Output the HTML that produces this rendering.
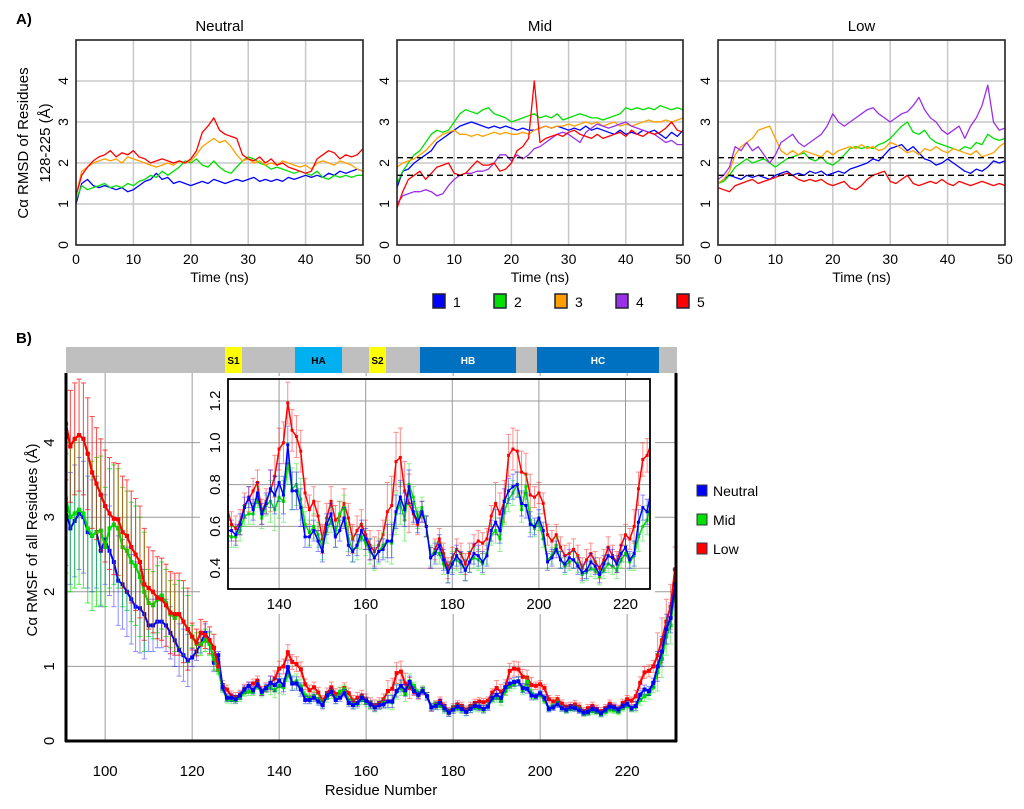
<!DOCTYPE html>
<html><head><meta charset="utf-8"><style>
body{margin:0;background:#fff;}
svg{display:block;font-family:"Liberation Sans",sans-serif;}
</style></head><body>
<svg id="fig" width="1024" height="809" viewBox="0 0 1024 809">
<g id="A"></g>
<g id="B"></g>
</svg>
<script>
// ---------- Panel A data (t = 0..50 ns, 1 ns steps) ----------
const timeNs = [0,1,2,3,4,5,6,7,8,9,10,11,12,13,14,15,16,17,18,19,20,21,22,23,24,25,26,27,28,29,30,31,32,33,34,35,36,37,38,39,40,41,42,43,44,45,46,47,48,49,50];
const neutral1 = [1.0,1.5,1.6,1.45,1.4,1.45,1.4,1.35,1.4,1.3,1.35,1.45,1.55,1.6,1.75,1.6,1.65,1.5,1.55,1.5,1.45,1.5,1.55,1.5,1.6,1.55,1.5,1.55,1.6,1.55,1.6,1.65,1.55,1.6,1.55,1.6,1.55,1.65,1.6,1.65,1.7,1.65,1.7,1.65,1.75,1.7,1.8,1.75,1.8,1.85,1.8];
const neutral2 = [1.1,1.45,1.35,1.4,1.45,1.5,1.4,1.45,1.4,1.5,1.45,1.55,1.6,1.7,1.65,1.8,1.7,1.8,1.9,2.05,2.0,2.1,1.95,1.9,2.05,1.9,1.8,1.75,1.9,2.05,2.15,2.1,2.0,1.95,1.85,1.9,1.85,1.8,1.75,1.8,1.75,1.7,1.8,1.65,1.6,1.7,1.65,1.7,1.65,1.7,1.7];
const neutral3 = [1.2,1.8,1.9,2.0,2.05,2.1,2.05,2.1,2.0,2.15,2.1,2.05,2.0,1.95,1.9,1.95,2.0,1.95,2.05,2.0,2.05,2.2,2.4,2.5,2.6,2.5,2.55,2.4,2.2,2.05,2.1,2.0,2.05,1.95,2.0,1.95,2.05,2.0,1.95,1.9,1.95,1.85,2.0,2.05,2.0,1.95,2.05,2.0,1.95,1.85,1.8];
const neutral5 = [1.2,1.7,1.9,2.05,2.15,2.2,2.3,2.15,2.25,2.2,2.3,2.15,2.1,2.0,2.05,2.1,2.05,2.0,2.05,2.0,2.1,2.3,2.75,2.9,3.1,2.8,2.7,2.65,2.6,2.2,2.1,2.05,2.15,2.0,2.1,1.95,2.0,1.9,1.85,1.8,1.75,1.8,2.1,2.2,2.3,2.25,2.1,2.2,2.15,2.2,2.35];
const mid1 = [1.4,1.8,1.85,2.0,2.1,2.2,2.3,2.5,2.6,2.7,2.8,2.9,2.95,3.0,2.95,2.9,2.85,2.9,2.85,2.9,2.85,2.8,2.85,2.8,2.8,2.85,2.9,2.85,2.9,2.85,2.8,2.85,2.8,2.9,2.8,2.85,2.8,2.75,2.7,2.8,2.7,2.75,2.7,2.8,2.75,2.8,2.7,2.6,2.75,2.65,2.8];
const mid2 = [1.5,1.8,2.0,2.2,2.3,2.5,2.7,2.8,2.75,2.8,3.0,3.2,3.3,3.25,3.2,3.3,3.35,3.2,3.15,3.1,3.0,3.05,3.1,3.15,3.2,3.1,3.15,3.1,3.2,3.05,3.1,3.15,3.2,3.15,3.1,3.1,3.05,3.1,3.15,3.2,3.35,3.3,3.35,3.3,3.35,3.3,3.4,3.35,3.3,3.35,3.3];
const mid3 = [1.9,2.0,2.05,2.1,2.2,2.3,2.45,2.6,2.7,2.75,2.8,2.7,2.7,2.65,2.7,2.65,2.7,2.75,2.7,2.75,2.7,2.7,2.75,2.7,2.8,2.85,2.9,2.85,2.9,2.9,2.95,2.9,2.95,3.0,2.95,3.0,2.9,2.95,3.0,2.9,2.95,2.9,2.95,3.0,3.05,3.0,3.0,3.05,3.0,3.05,3.1];
const mid4 = [1.0,1.2,1.25,1.3,1.3,1.35,1.3,1.2,1.25,1.45,1.6,1.7,1.75,1.75,1.8,1.8,1.85,2.0,2.2,2.2,2.05,2.2,2.1,2.2,2.35,2.4,2.5,2.6,2.7,2.75,2.7,2.6,2.5,2.75,2.85,2.95,2.9,2.85,2.9,2.95,3.0,2.9,2.85,2.8,2.75,2.7,2.6,2.5,2.55,2.45,2.45];
const mid5 = [0.9,1.3,1.6,1.7,1.8,1.6,1.75,1.9,1.95,2.0,1.75,1.7,1.75,1.9,2.05,1.95,1.95,2.0,1.8,1.85,2.0,2.3,2.4,2.6,4.0,2.5,2.6,2.65,2.7,2.65,2.75,2.8,2.7,2.65,2.6,2.7,2.6,2.65,2.7,2.75,2.65,2.8,2.7,2.65,2.75,2.7,2.75,2.85,3.0,2.8,2.75];
const low1 = [1.5,1.6,1.7,1.65,1.6,1.7,1.65,1.7,1.65,1.6,1.7,1.75,1.8,1.7,1.75,1.7,1.8,1.75,1.8,1.7,1.75,1.8,1.75,1.85,1.9,1.95,2.0,2.1,2.05,2.2,2.35,2.4,2.45,2.3,2.4,2.25,2.1,2.05,1.95,2.0,2.1,2.0,1.9,1.8,1.75,1.85,1.8,1.9,2.05,2.0,2.05];
const low2 = [1.5,1.55,1.7,1.9,2.0,2.1,2.0,2.05,2.1,2.0,1.9,2.0,2.1,2.15,2.2,2.25,2.1,2.05,2.15,2.0,1.95,2.05,2.2,2.35,2.4,2.35,2.4,2.35,2.45,2.5,2.6,2.75,2.9,3.0,2.75,2.7,2.8,2.6,2.5,2.45,2.4,2.35,2.3,2.4,2.35,2.5,2.45,2.7,2.6,2.55,2.6];
const low3 = [1.5,1.6,1.8,2.2,2.4,2.5,2.6,2.8,2.85,2.9,2.6,2.3,2.2,2.3,2.2,2.3,2.25,2.2,2.15,2.3,2.2,2.3,2.35,2.4,2.35,2.45,2.35,2.4,2.3,2.35,2.5,2.45,2.35,2.25,2.3,2.2,2.35,2.3,2.4,2.3,2.25,2.35,2.3,2.25,2.2,2.3,2.15,2.2,2.25,2.4,2.5];
const low4 = [1.6,1.7,1.9,2.4,2.3,2.5,2.3,2.4,2.2,2.0,2.2,2.5,2.6,2.7,2.5,2.4,2.5,2.6,2.7,2.9,3.2,3.0,2.9,3.0,3.1,3.2,3.3,3.35,3.2,3.1,3.0,3.1,3.2,3.25,3.4,3.6,3.3,3.1,3.0,2.8,2.7,2.8,2.9,2.6,2.9,3.1,3.4,3.9,3.0,2.8,2.85];
const low5 = [1.4,1.35,1.3,1.45,1.5,1.55,1.6,1.5,1.55,1.6,1.65,1.7,1.75,1.7,1.6,1.55,1.6,1.55,1.6,1.5,1.45,1.5,1.55,1.4,1.35,1.45,1.6,1.7,1.75,1.8,1.55,1.5,1.6,1.7,1.5,1.45,1.5,1.55,1.5,1.6,1.5,1.45,1.55,1.5,1.45,1.5,1.55,1.5,1.45,1.5,1.45];
const dashedRefs = [2.13, 1.7];
const timeTicks = [0,10,20,30,40,50];
const rmsdTicks = [0,1,2,3,4];
const runLabels = ["1","2","3","4","5"];

// ---------- Panel B data (residues 91..231) ----------
const residueStart = 91;
const rmsfNeutral = [3.1,2.85,2.95,3.05,3.0,2.8,2.75,2.8,2.55,2.7,2.55,2.4,2.15,2.1,2.0,1.9,1.8,1.78,1.7,1.55,1.55,1.6,1.6,1.55,1.45,1.35,1.22,1.15,1.08,1.12,1.2,1.3,1.45,1.35,1.05,1.15,0.72,
0.58,0.58,0.56,0.61,0.69,0.74,0.68,0.76,0.66,0.71,0.78,0.75,0.81,0.75,0.99,0.77,0.77,0.69,0.55,0.55,0.58,0.53,0.48,0.61,0.66,0.55,0.58,0.64,0.51,0.48,0.51,0.58,0.54,0.49,0.45,0.48,0.49,0.53,0.53,0.67,0.74,0.68,0.79,0.67,0.62,0.67,0.60,0.45,0.47,0.51,0.44,0.38,0.42,0.46,0.43,0.39,0.43,0.47,0.46,0.43,0.46,0.58,0.62,0.58,0.72,0.77,0.79,0.80,0.71,0.70,0.61,0.60,0.64,0.58,0.43,0.45,0.49,0.44,0.42,0.45,0.44,0.41,0.38,0.39,0.43,0.41,0.37,0.42,0.46,0.45,0.42,0.47,0.50,0.44,0.47,0.62,0.69,0.67,
0.78,1.0,1.2,1.5,1.65,2.1];
const rmsfMid = [3.25,3.0,3.05,3.1,3.05,2.85,2.75,2.8,2.82,2.6,2.85,2.9,2.85,2.6,2.55,2.4,2.35,2.2,2.0,1.85,1.82,1.9,1.95,1.85,1.7,1.65,1.7,1.6,1.5,1.4,1.3,1.3,1.35,1.3,1.1,0.95,0.7,
0.56,0.55,0.55,0.58,0.65,0.66,0.66,0.74,0.64,0.70,0.72,0.68,0.74,0.72,0.90,0.78,0.80,0.73,0.61,0.57,0.60,0.56,0.50,0.58,0.63,0.56,0.66,0.69,0.54,0.49,0.50,0.55,0.52,0.48,0.45,0.48,0.51,0.53,0.52,0.66,0.71,0.63,0.80,0.74,0.64,0.69,0.60,0.46,0.48,0.47,0.42,0.38,0.43,0.44,0.42,0.39,0.43,0.45,0.44,0.42,0.47,0.56,0.58,0.54,0.67,0.73,0.76,0.80,0.68,0.79,0.63,0.59,0.62,0.54,0.44,0.46,0.51,0.44,0.41,0.43,0.44,0.42,0.37,0.38,0.40,0.39,0.36,0.39,0.42,0.41,0.39,0.44,0.47,0.43,0.46,0.55,0.60,0.63,
0.72,0.92,1.1,1.4,1.55,2.05];
const rmsfLow = [4.25,3.95,4.05,4.1,4.05,3.85,3.6,3.45,3.3,3.15,3.05,2.98,2.97,2.8,2.75,2.6,2.5,2.4,2.1,2.05,2.0,1.92,1.9,1.82,1.72,1.7,1.7,1.6,1.5,1.4,1.32,1.45,1.42,1.35,1.25,1.0,0.75,
0.69,0.61,0.59,0.62,0.70,0.73,0.77,0.81,0.67,0.72,0.77,0.84,0.97,1.0,1.19,1.06,1.03,0.96,0.76,0.68,0.72,0.65,0.54,0.64,0.72,0.63,0.65,0.71,0.64,0.54,0.58,0.61,0.56,0.51,0.48,0.51,0.56,0.67,0.70,0.91,0.93,0.77,0.71,0.66,0.61,0.67,0.60,0.45,0.49,0.54,0.47,0.40,0.45,0.49,0.47,0.42,0.47,0.51,0.53,0.52,0.54,0.65,0.71,0.66,0.72,0.94,0.97,0.96,0.86,0.85,0.75,0.74,0.76,0.71,0.56,0.53,0.56,0.50,0.46,0.47,0.49,0.46,0.40,0.44,0.47,0.43,0.40,0.44,0.50,0.46,0.43,0.51,0.56,0.54,0.60,0.78,0.92,0.94,
1.0,1.15,1.35,1.6,1.8,2.3];
// error-bar half-widths, piecewise by residue segment
const errSegStart = [91,100,110,120,126,138,146,165,171,190,199,222,227];
const errNeutral = [0.75,0.6,0.35,0.12,0.05,0.09,0.05,0.08,0.05,0.06,0.04,0.06,0.2];
const errMid = [1.0,0.8,0.45,0.15,0.05,0.1,0.06,0.1,0.05,0.06,0.04,0.07,0.25];
const errLow = [0.75,0.75,0.55,0.18,0.06,0.1,0.07,0.14,0.05,0.1,0.05,0.08,0.3];
const residueTicks = [100,120,140,160,180,200,220];
const insetResTicks = [140,160,180,200,220];
const rmsfTicks = [0,1,2,3,4];
const insetTicks = [0.4,0.6,0.8,1.0,1.2];
const seriesNames = ["Neutral","Mid","Low"];
const domainNames = ["S1","HA","S2","HB","HC"];
const domainStart = [127,141,151,170,180];
const domainEnd = [131,152,155,192,208];

// ---------- helpers ----------
const NS='http://www.w3.org/2000/svg';
function mk(tag, attrs, parent){const e=document.createElementNS(NS,tag);for(const k in attrs)e.setAttribute(k,attrs[k]);parent.appendChild(e);return e;}
function txt(s, attrs, parent){const e=mk('text',attrs,parent);e.textContent=s;return e;}
const A=document.getElementById('A'), B=document.getElementById('B');
const C={1:'#0000ff',2:'#00e000',3:'#ffa000',4:'#9a30e8',5:'#ff0000'};

// ---------- Panel A ----------
let t=txt('A)',{x:16,y:24,'font-size':15,'font-weight':'bold'},A);

const panels=[
 {name:'Neutral',x0:76,x1:363,series:[[neutral1,1],[neutral2,2],[neutral3,3],[neutral5,5]],dash:false,key:'neutral'},
 {name:'Mid',x0:397,x1:683,series:[[mid1,1],[mid2,2],[mid3,3],[mid4,4],[mid5,5]],dash:true,key:'mid'},
 {name:'Low',x0:718,x1:1005,series:[[low1,1],[low2,2],[low3,3],[low4,4],[low5,5]],dash:true,key:'low'}];
const yTop=40,yBot=245;
panels.forEach(p=>{
  const g=mk('g',{},A);
  
  
  const sx=v=>p.x0+(v-0)*(p.x1-p.x0)/50;
  const sy=v=>yBot-v*41;
  timeTicks.forEach(v=>{ if(v>0&&v<50) mk('line',{x1:sx(v),x2:sx(v),y1:yTop,y2:yBot,stroke:'#c8c8c8','stroke-width':1.5},g);});
  rmsdTicks.forEach(v=>{ if(v>0) mk('line',{x1:p.x0,x2:p.x1,y1:sy(v),y2:sy(v),stroke:'#c8c8c8','stroke-width':1.5},g);});
  p.series.forEach(([arr,id])=>{
    const pl=mk('polyline',{points:arr.map((v,i)=>sx(timeNs[i]).toFixed(1)+','+sy(v).toFixed(1)).join(' '),fill:'none',stroke:C[id],'stroke-width':1.3,'stroke-linejoin':'round'},g);
    
    
  });
  if(p.dash) dashedRefs.forEach(v=>{const l=mk('line',{x1:p.x0,x2:p.x1,y1:sy(v),y2:sy(v),stroke:'#000','stroke-width':1.3,'stroke-dasharray':'6,4'},g);
    });
  mk('rect',{x:p.x0,y:yTop,width:p.x1-p.x0,height:yBot-yTop,fill:'none',stroke:'#222','stroke-width':1.6},g);
  const ti=txt(p.name,{x:(p.x0+p.x1)/2,y:31,'text-anchor':'middle','font-size':15},g);
  
  timeTicks.forEach(v=>{const e=txt(String(v),{x:sx(v),y:264,'text-anchor':'middle','font-size':14},g);
    });
  rmsdTicks.forEach(v=>{const e=txt(String(v),{x:0,y:0,'text-anchor':'middle','font-size':14,transform:`translate(${p.x0-8},${sy(v)}) rotate(-90)`},g);
    });
  const xt=txt('Time (ns)',{x:(p.x0+p.x1)/2,y:282,'text-anchor':'middle','font-size':14},g);
  
});
let yl=txt('',{'font-size':15,'text-anchor':'middle',transform:'translate(0,143) rotate(-90)'},A);

let ts1=mk('tspan',{x:0,y:28},yl);ts1.textContent='Cα RMSD of Residues';
let ts2=mk('tspan',{x:0,y:50},yl);ts2.textContent='128-225 (Å)';
// legend A
const legA=mk('g',{},A);

runLabels.forEach((lab,i)=>{
  const x=433+i*61;
  const r=mk('rect',{x:x,y:294,width:12,height:14,fill:C[i+1],stroke:'#223','stroke-width':1.5},legA);
  
  const e=txt(lab,{x:x+20,y:307,'font-size':14},legA);
  
});

// ---------- Panel B ----------
t=txt('B)',{x:16,y:343,'font-size':15,'font-weight':'bold'},B);

const bx=r=>66+(r-91)*4.35, by=v=>741-v*74.6;
function errOf(r,arr){let k=0;for(let i=0;i<errSegStart.length;i++)if(r>=errSegStart[i])k=i;return arr[k];}
// domain bar
const bar=mk('g',{},B);

mk('rect',{x:66,y:347,width:611,height:26,fill:'#bfbfbf'},bar);
const dCol=['#ffff00','#00b0f0','#ffff00','#0070c0','#0070c0'];
const dPx=[[225,242],[295,342],[369,386],[420,516],[537,659]];
domainNames.forEach((n,i)=>{
  const s=mk('rect',{x:dPx[i][0],y:347,width:dPx[i][1]-dPx[i][0],height:26,fill:dCol[i]},bar);
  
  const e=txt(n,{x:(dPx[i][0]+dPx[i][1])/2,y:364,'text-anchor':'middle','font-size':10,'font-weight':'bold',fill:(i<3&&i!==1)?'#000':(i===1?'#000':'#fff')},bar);
  
});
// main grid
const main=mk('g',{},B);

residueTicks.forEach(v=>mk('line',{x1:bx(v),x2:bx(v),y1:373,y2:741,stroke:'#9a9a9a','stroke-width':1},main));
rmsfTicks.forEach(v=>{if(v>0)mk('line',{x1:66,x2:676,y1:by(v),y2:by(v),stroke:'#9a9a9a','stroke-width':1},main);});
function drawSeries(g,vals,err,col,sx,sy,rMin,rMax,msz,lw,key){
  const eg=mk('g',{opacity:0.45},g);
  const pts=[];
  vals.forEach((v,i)=>{const r=residueStart+i; if(r<rMin||r>rMax)return;
    const x=sx(r),e=errOf(r,err);
    mk('line',{x1:x,x2:x,y1:sy(v+e),y2:sy(v-e),stroke:col,'stroke-width':1},eg);
    mk('line',{x1:x-2.5,x2:x+2.5,y1:sy(v+e),y2:sy(v+e),stroke:col,'stroke-width':1},eg);
    mk('line',{x1:x-2.5,x2:x+2.5,y1:sy(v-e),y2:sy(v-e),stroke:col,'stroke-width':1},eg);
    pts.push([x,sy(v)]);});
  const pl=mk('polyline',{points:pts.map(p=>p[0].toFixed(1)+','+p[1].toFixed(1)).join(' '),fill:'none',stroke:col,'stroke-width':lw},g);
  
  pts.forEach(p=>mk('rect',{x:p[0]-msz/2,y:p[1]-msz/2,width:msz,height:msz,fill:col},g));
}
const mc=mk('clipPath',{id:'mclip'},main);mk('rect',{x:66,y:373,width:611,height:368},mc);
const mser=mk('g',{'clip-path':'url(#mclip)'},main);
drawSeries(mser,rmsfLow,errLow,'#ff0000',bx,by,91,231,4,2,'low');
drawSeries(mser,rmsfMid,errMid,'#00e000',bx,by,91,231,4,2,'mid');
drawSeries(mser,rmsfNeutral,errNeutral,'#0000ff',bx,by,91,231,4,2,'neutral');
drawSeries(mser,rmsfMid,errMid,'#00e000',bx,by,91,126,4,2,'mid-front');
drawSeries(mser,rmsfLow,errLow,'#ff0000',bx,by,91,126,4,2,'low-front');
mk('line',{x1:66,x2:66,y1:373,y2:742,stroke:'#000','stroke-width':3},main);
mk('line',{x1:65,x2:677,y1:741,y2:741,stroke:'#000','stroke-width':3},main);
mk('line',{x1:676,x2:676,y1:373,y2:742,stroke:'#000','stroke-width':3},main);
residueTicks.forEach(v=>{const e=txt(String(v),{x:bx(v),y:776,'text-anchor':'middle','font-size':15},main);
  });
rmsfTicks.forEach(v=>{const e=txt(String(v),{'text-anchor':'middle','font-size':15,transform:`translate(54,${by(v)}) rotate(-90)`},main);
  });
let xa=txt('Residue Number',{x:381,y:795,'text-anchor':'middle','font-size':15},main);

let ya=txt('Cα RMSF of all Residues (Å)',{'text-anchor':'middle','font-size':15,transform:'translate(37,540) rotate(-90)'},main);

// inset
const ins=mk('g',{},B);

const ix=r=>228+(r-128.2)*4.33, iy=v=>401+(1.2-v)*209;
mk('rect',{x:200,y:376,width:455,height:238,fill:'#fff'},ins);
insetResTicks.forEach(v=>mk('line',{x1:ix(v),x2:ix(v),y1:379,y2:589,stroke:'#9a9a9a','stroke-width':1},ins));
insetTicks.forEach(v=>mk('line',{x1:228,x2:650,y1:iy(v),y2:iy(v),stroke:'#9a9a9a','stroke-width':1},ins));
const ic=mk('clipPath',{id:'iclip'},ins);mk('rect',{x:228,y:379,width:422,height:210},ic);
const iser=mk('g',{'clip-path':'url(#iclip)'},ins);
drawSeries(iser,rmsfLow,errLow,'#ff0000',ix,iy,128,226,3,1.5,'inset-low');
drawSeries(iser,rmsfMid,errMid,'#00e000',ix,iy,128,226,3,1.5,'inset-mid');
drawSeries(iser,rmsfNeutral,errNeutral,'#0000ff',ix,iy,128,226,3,1.5,'inset-neutral');
mk('rect',{x:228,y:379,width:422,height:210,fill:'none',stroke:'#000','stroke-width':1.8},ins);
insetResTicks.forEach(v=>{const e=txt(String(v),{x:ix(v),y:609,'text-anchor':'middle','font-size':15},ins);
  });
insetTicks.forEach(v=>{const e=txt(v.toFixed(1),{'text-anchor':'middle','font-size':15,transform:`translate(220,${iy(v)}) rotate(-90)`},ins);
  });
// legend B
const legB=mk('g',{},B);

const lc=['#0000ff','#00e000','#ff0000'];
seriesNames.forEach((n,i)=>{
  const y=491+i*29;
  const r=mk('rect',{x:697,y:y-6,width:10,height:11,fill:lc[i],stroke:'#334','stroke-width':1},legB);
  
  const e=txt(n,{x:713,y:y+5,'font-size':14},legB);
  
});
</script>
</body></html>
